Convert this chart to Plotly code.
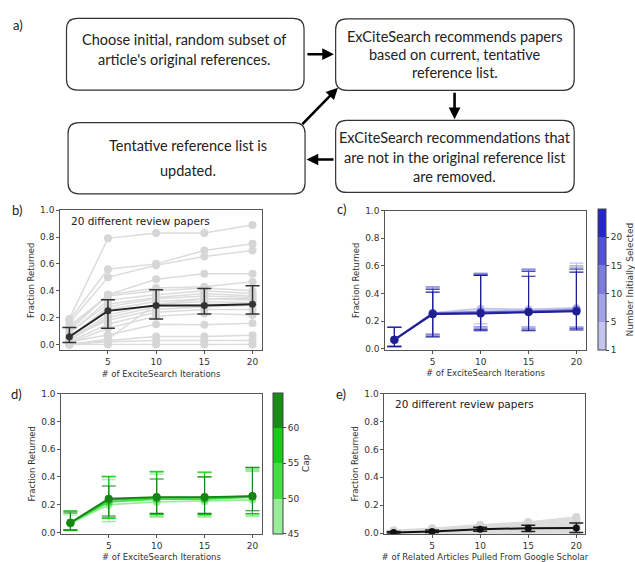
import plotly.graph_objects as go

W, H = 635, 562

# ---------------- data ----------------
iters = [1, 5, 10, 15, 20]

# panel b: 20 review papers (fraction returned vs ExCiteSearch iterations)
b_papers = [
    [0.19, 0.79, 0.83, 0.83, 0.89],
    [0.18, 0.56, 0.60, 0.70, 0.75],
    [0.16, 0.50, 0.59, 0.655, 0.70],
    [0.12, 0.37, 0.485, 0.527, 0.527],
    [0.10, 0.37, 0.42, 0.43, 0.466],
    [0.14, 0.36, 0.40, 0.42, 0.40],
    [0.08, 0.33, 0.37, 0.40, 0.38],
    [0.09, 0.30, 0.35, 0.38, 0.36],
    [0.05, 0.28, 0.34, 0.36, 0.35],
    [0.06, 0.26, 0.32, 0.34, 0.33],
    [0.04, 0.22, 0.30, 0.32, 0.31],
    [0.03, 0.20, 0.28, 0.30, 0.30],
    [0.05, 0.18, 0.26, 0.28, 0.29],
    [0.02, 0.15, 0.24, 0.26, 0.26],
    [0.01, 0.12, 0.21, 0.23, 0.22],
    [0.00, 0.04, 0.30, 0.34, 0.34],
    [0.02, 0.07, 0.15, 0.146, 0.158],
    [0.00, 0.03, 0.06, 0.06, 0.068],
    [0.00, 0.02, 0.03, 0.03, 0.03],
    [0.00, 0.00, 0.00, 0.00, 0.00],
]
b_mean = [0.057, 0.25, 0.29, 0.29, 0.30]
b_upper = [0.126, 0.333, 0.408, 0.417, 0.437]
b_lower = [0.015, 0.121, 0.189, 0.226, 0.226]

# panel c: number initially selected
c_levels = ["1", "5", "10", "15", "20"]
c_mean = [
    [0.065, 0.26, 0.29, 0.285, 0.295],
    [0.065, 0.255, 0.27, 0.27, 0.285],
    [0.065, 0.255, 0.265, 0.27, 0.28],
    [0.065, 0.255, 0.26, 0.265, 0.275],
    [0.065, 0.25, 0.255, 0.265, 0.27],
]
c_upper = [
    [0.155, 0.45, 0.55, 0.58, 0.62],
    [0.155, 0.45, 0.545, 0.575, 0.60],
    [0.155, 0.44, 0.54, 0.57, 0.585],
    [0.155, 0.43, 0.535, 0.56, 0.575],
    [0.155, 0.41, 0.53, 0.525, 0.555],
]
c_lower = [
    [0.02, 0.11, 0.18, 0.16, 0.16],
    [0.02, 0.105, 0.16, 0.155, 0.155],
    [0.02, 0.10, 0.15, 0.145, 0.15],
    [0.015, 0.09, 0.14, 0.135, 0.145],
    [0.015, 0.085, 0.13, 0.13, 0.135],
]

# panel d: cap
d_levels = [45, 50, 55, 60]
d_mean = [
    [0.065, 0.20, 0.22, 0.225, 0.235],
    [0.07, 0.22, 0.24, 0.24, 0.255],
    [0.07, 0.235, 0.25, 0.25, 0.26],
    [0.07, 0.243, 0.255, 0.255, 0.262],
]
d_upper = [
    [0.125, 0.38, 0.42, 0.40, 0.44],
    [0.15, 0.40, 0.44, 0.43, 0.45],
    [0.155, 0.405, 0.435, 0.435, 0.465],
    [0.14, 0.335, 0.385, 0.40, 0.47],
]
d_lower = [
    [0.01, 0.078, 0.11, 0.11, 0.113],
    [0.015, 0.10, 0.118, 0.12, 0.125],
    [0.02, 0.105, 0.13, 0.13, 0.135],
    [0.015, 0.118, 0.137, 0.137, 0.156],
]

# panel e: Google Scholar related articles
e_papers = [
    [0.020, 0.035, 0.060, 0.080, 0.115],
    [0.015, 0.030, 0.055, 0.075, 0.105],
    [0.015, 0.030, 0.050, 0.070, 0.095],
    [0.010, 0.025, 0.045, 0.065, 0.085],
    [0.010, 0.025, 0.040, 0.060, 0.075],
    [0.010, 0.020, 0.040, 0.055, 0.065],
    [0.008, 0.020, 0.035, 0.050, 0.060],
    [0.008, 0.018, 0.035, 0.045, 0.055],
    [0.005, 0.015, 0.030, 0.040, 0.050],
    [0.005, 0.015, 0.030, 0.040, 0.045],
    [0.005, 0.012, 0.028, 0.035, 0.040],
    [0.004, 0.010, 0.025, 0.030, 0.035],
    [0.003, 0.010, 0.022, 0.030, 0.030],
    [0.003, 0.008, 0.020, 0.025, 0.028],
    [0.002, 0.006, 0.018, 0.022, 0.025],
    [0.002, 0.005, 0.015, 0.020, 0.020],
    [0.001, 0.004, 0.012, 0.015, 0.015],
    [0.000, 0.002, 0.008, 0.010, 0.010],
    [0.000, 0.000, 0.004, 0.005, 0.005],
    [0.000, 0.000, 0.000, 0.000, 0.000],
]
e_mean = [0.005, 0.012, 0.028, 0.035, 0.036]
e_upper = [0.012, 0.022, 0.042, 0.056, 0.072]
e_lower = [0.000, 0.004, 0.014, 0.012, 0.004]

y_ticks = [0.0, 0.2, 0.4, 0.6, 0.8, 1.0]
x_ticks = [5, 10, 15, 20]

box_lines = [
    ["Choose initial, random subset of", "article's original references."],
    ["ExCiteSearch recommends papers", "based on current, tentative", "reference list."],
    ["ExCiteSearch recommendations that", "are not in the original reference list", "are removed."],
    ["Tentative reference list is", "updated."],
]

# ---------------- helpers ----------------
def px(x):
    return x / W

def py(y):
    return 1 - y / H

fig = go.Figure()

c_colors = ["#c2c2ee", "#9c9ce4", "#7474d8", "#4a4ac4", "#1e1e92"]
c_scale_cols = ["#c4c4f0", "#a2a2e8", "#7c7ce0", "#5252d8", "#2424d0"]
d_colors = ["#98ec98", "#40dc40", "#14c414", "#168416"]
d_scale_cols = ["#98ee98", "#44de44", "#16cc16", "#1a8c1a"]

# panel b
for p in b_papers:
    fig.add_trace(go.Scatter(x=iters, y=p, mode="lines+markers", xaxis="x", yaxis="y",
                             line=dict(color="#dcdcdc", width=1.5),
                             marker=dict(color="#d6d6d6", size=8), showlegend=False,
                             hoverinfo="skip"))
fig.add_trace(go.Scatter(
    x=iters, y=b_mean, mode="lines+markers", xaxis="x", yaxis="y",
    line=dict(color="#222222", width=2), marker=dict(color="#333333", size=7),
    error_y=dict(type="data", symmetric=False,
                 array=[u - m for u, m in zip(b_upper, b_mean)],
                 arrayminus=[m - l for m, l in zip(b_mean, b_lower)],
                 color="#333333", thickness=1.5, width=7),
    showlegend=False))

# panel c
for i in range(len(c_levels)):
    fig.add_trace(go.Scatter(
        x=iters, y=c_mean[i], mode="lines+markers", xaxis="x2", yaxis="y2",
        line=dict(color=c_colors[i], width=1.8), marker=dict(color=c_colors[i], size=8),
        error_y=dict(type="data", symmetric=False,
                     array=[u - m for u, m in zip(c_upper[i], c_mean[i])],
                     arrayminus=[m - l for m, l in zip(c_mean[i], c_lower[i])],
                     color=c_colors[i], thickness=1.1, width=7),
        showlegend=False))

# panel d
for i in range(len(d_levels)):
    fig.add_trace(go.Scatter(
        x=iters, y=d_mean[i], mode="lines+markers", xaxis="x3", yaxis="y3",
        line=dict(color=d_colors[i], width=1.8), marker=dict(color=d_colors[i], size=8),
        error_y=dict(type="data", symmetric=False,
                     array=[u - m for u, m in zip(d_upper[i], d_mean[i])],
                     arrayminus=[m - l for m, l in zip(d_mean[i], d_lower[i])],
                     color=d_colors[i], thickness=1.1, width=7),
        showlegend=False))

# panel e
for p in e_papers:
    fig.add_trace(go.Scatter(x=iters, y=p, mode="lines+markers", xaxis="x4", yaxis="y4",
                             line=dict(color="#dcdcdc", width=1.5),
                             marker=dict(color="#d6d6d6", size=8), showlegend=False,
                             hoverinfo="skip"))
fig.add_trace(go.Scatter(
    x=iters, y=e_mean, mode="lines+markers", xaxis="x4", yaxis="y4",
    line=dict(color="#111111", width=2), marker=dict(color="#111111", size=7),
    error_y=dict(type="data", symmetric=False,
                 array=[u - m for u, m in zip(e_upper, e_mean)],
                 arrayminus=[m - l for m, l in zip(e_mean, e_lower)],
                 color="#222222", thickness=1.5, width=7),
    showlegend=False))

# colorbars (dummy traces)
def discrete_scale(cols):
    n = len(cols)
    s = []
    for k, c in enumerate(cols):
        s.append([k / n, c])
        s.append([(k + 1) / n, c])
    return s

fig.add_trace(go.Scatter(
    x=[None], y=[None], mode="markers", xaxis="x2", yaxis="y2", showlegend=False,
    marker=dict(color=[0], cmin=0, cmax=len(c_levels), colorscale=discrete_scale(c_scale_cols),
                showscale=True,
                colorbar=dict(x=px(599.5), xanchor="left", y=py(350.7), yanchor="bottom",
                              len=(350.7 - 207.7) / H, lenmode="fraction", thickness=8,
                              xpad=0, ypad=0, outlinewidth=1, outlinecolor="#444",
                              tickvals=list(range(len(c_levels))), ticktext=c_levels,
                              ticks="outside", ticklen=3, tickcolor="#444",
                              tickfont=dict(family="DejaVu Sans", size=9, color="#333"),
                              title=dict(text="Number Initially Selected", side="right",
                                         font=dict(family="DejaVu Sans", size=9, color="#333"))))))

fig.add_trace(go.Scatter(
    x=[None], y=[None], mode="markers", xaxis="x3", yaxis="y3", showlegend=False,
    marker=dict(color=[45], cmin=45, cmax=65, colorscale=discrete_scale(d_scale_cols),
                showscale=True,
                colorbar=dict(x=px(273.5), xanchor="left", y=py(537.3), yanchor="bottom",
                              len=(537.3 - 394.3) / H, lenmode="fraction", thickness=10,
                              xpad=0, ypad=0, outlinewidth=1, outlinecolor="#444",
                              tickvals=d_levels, ticktext=[str(v) for v in d_levels],
                              ticks="outside", ticklen=3, tickcolor="#444",
                              tickfont=dict(family="DejaVu Sans", size=9, color="#333"),
                              title=dict(text="Cap", side="right",
                                         font=dict(family="DejaVu Sans", size=9, color="#333"))))))

# ---------------- axes ----------------
tickfont = dict(family="DejaVu Sans", size=9, color="#333")
titlefont = dict(family="DejaVu Sans", size=8.5, color="#333")

def xax(x0, x1, title, anchor):
    return dict(domain=[px(x0), px(x1)], range=[0.05, 20.95], tickvals=x_ticks,
                showgrid=False, zeroline=False, showline=True, mirror=True,
                linecolor="#555", linewidth=1, ticks="outside", ticklen=3,
                tickcolor="#555", tickfont=tickfont, anchor=anchor,
                title=dict(text=title, font=titlefont, standoff=4))

def yax(y0, y1, rmin, anchor):
    return dict(domain=[py(y1), py(y0)], range=[rmin, 1.0], tickvals=y_ticks,
                tickformat=".1f", showgrid=False, zeroline=False, showline=True,
                mirror=True, linecolor="#555", linewidth=1, ticks="outside", ticklen=3,
                tickcolor="#555", tickfont=tickfont, anchor=anchor,
                title=dict(text="Fraction Returned", font=titlefont, standoff=4))

fig.update_layout(
    width=W, height=H, margin=dict(l=0, r=0, t=0, b=0),
    paper_bgcolor="white", plot_bgcolor="white",
    xaxis=xax(60.4, 262.5, "# of ExciteSearch Iterations", "y"),
    yaxis=yax(208.5, 351.1, -0.045, "x"),
    xaxis2=xax(386.5, 587.4, "# of ExciteSearch Iterations", "y2"),
    yaxis2=yax(209, 350.7, -0.01, "x2"),
    xaxis3=xax(61.5, 262.4, "# of ExciteSearch Iterations", "y3"),
    yaxis3=yax(395, 537.4, -0.01, "x3"),
    xaxis4=xax(385.7, 587.3, "# of Related Articles Pulled From Google Scholar", "y4"),
    yaxis4=yax(395, 537.7, -0.007, "x4"),
)

# ---------------- flowchart (panel a) ----------------
boxes = [(66.7, 13.5, 305, 86.5), (336.7, 14, 576, 86.7),
         (336.7, 117.3, 576, 190.5), (68.3, 119.5, 306, 192)]

def rrect(x0, y0, x1, y1, r=11):
    pts = (f"M {px(x0 + r)},{py(y0)} L {px(x1 - r)},{py(y0)} "
           f"Q {px(x1)},{py(y0)} {px(x1)},{py(y0 + r)} L {px(x1)},{py(y1 - r)} "
           f"Q {px(x1)},{py(y1)} {px(x1 - r)},{py(y1)} L {px(x0 + r)},{py(y1)} "
           f"Q {px(x0)},{py(y1)} {px(x0)},{py(y1 - r)} L {px(x0)},{py(y0 + r)} "
           f"Q {px(x0)},{py(y0)} {px(x0 + r)},{py(y0)} Z")
    return pts

for (x0, y0, x1, y1) in boxes:
    fig.add_shape(type="path", path=rrect(x0, y0, x1, y1), xref="paper", yref="paper",
                  line=dict(color="#333", width=1.2), fillcolor="white", layer="below")

box_line_pos = [(185, [35, 55]), (456, [32, 50.5, 69]), (456, [135, 155, 174]),
                (189, [143, 168])]
for lines, (cx, ys) in zip(box_lines, box_line_pos):
    for t, cy in zip(lines, ys):
        fig.add_annotation(x=px(cx), y=py(cy), xref="paper", yref="paper", text=t,
                           showarrow=False, align="center", xanchor="center", yanchor="middle",
                           font=dict(family="Lato", size=14.5, color="#222"))

arrows = [((307, 50), (335, 50)), ((456, 88), (456, 116)),
          ((336, 157), (307.5, 157)), ((302, 122), (339, 84))]
for (tx, ty), (hx, hy) in arrows:
    fig.add_annotation(x=px(hx), y=py(hy), xref="paper", yref="paper", text="",
                       showarrow=True, ax=tx - hx, ay=ty - hy, axref="pixel", ayref="pixel",
                       arrowhead=2, arrowsize=0.9, arrowwidth=2.6, arrowcolor="black",
                       standoff=0, startstandoff=0)

# panel labels and inner texts
labels = [("a)", 18, 20), ("b)", 17, 208), ("c)", 343, 207), ("d)", 17, 395), ("e)", 342, 395)]
for t, x, y in labels:
    fig.add_annotation(x=px(x), y=py(y), xref="paper", yref="paper", text=t,
                       showarrow=False, xanchor="center", yanchor="middle",
                       font=dict(family="Lato", size=13, color="#222"))

fig.add_annotation(x=px(140.5), y=py(219.5), xref="paper", yref="paper",
                   text="20 different review papers", showarrow=False,
                   xanchor="center", yanchor="middle",
                   font=dict(family="DejaVu Sans", size=10.5, color="#222"))
fig.add_annotation(x=px(466), y=py(406), xref="paper", yref="paper",
                   text="20 different review papers", showarrow=False,
                   xanchor="center", yanchor="middle",
                   font=dict(family="DejaVu Sans", size=10.5, color="#222"))

fig.write_html("out.html")
